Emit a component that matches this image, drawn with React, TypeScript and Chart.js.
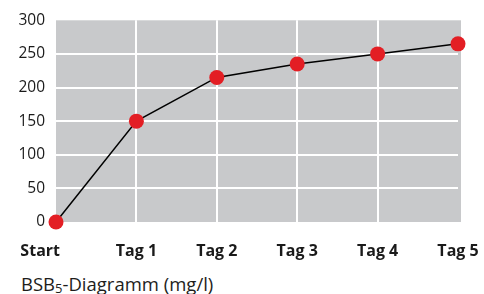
import React, { useEffect, useRef } from "react";
import { Chart, registerables } from "chart.js";

Chart.register(...registerables);

const categories = ["Start", "Tag 1", "Tag 2", "Tag 3", "Tag 4", "Tag 5"];
const bsbValues = [0, 150, 215, 235, 250, 265];
const yMin = 0;
const yMax = 300;
const yStep = 50;

const FONT = "'Open Sans', 'Noto Sans', sans-serif";

const bgPlugin = {
  id: "plotBg",
  beforeDraw(chart: any) {
    const { ctx, chartArea } = chart;
    ctx.save();
    ctx.fillStyle = "#c8c9cb";
    ctx.fillRect(chartArea.left, chartArea.top, chartArea.right - chartArea.left + 3, chartArea.bottom - chartArea.top);
    ctx.restore();
  },
};

const xLabelPlugin = {
  id: "xLabels",
  afterDraw(chart: any) {
    const { ctx } = chart;
    const xs = chart.scales.x;
    ctx.save();
    ctx.fillStyle = "#1a1a1a";
    ctx.font = `bold 16px ${FONT}`;
    ctx.textBaseline = "alphabetic";
    categories.forEach((c, i) => {
      const px = xs.getPixelForValue(i);
      if (i === 0) {
        ctx.textAlign = "right";
        ctx.fillText(c, px + 4, 256);
      } else {
        ctx.textAlign = "center";
        ctx.fillText(c, px, 256);
      }
    });
    ctx.restore();
  },
};

export default function App() {
  const ref = useRef<HTMLCanvasElement>(null);
  useEffect(() => {
    if (!ref.current) return;
    const chart = new Chart(ref.current, {
      type: "line",
      data: {
        labels: categories,
        datasets: [
          {
            data: bsbValues,
            borderColor: "#000000",
            borderWidth: 1.5,
            pointRadius: 7.5,
            pointHoverRadius: 7.5,
            pointBackgroundColor: "#e31e24",
            pointBorderColor: "#e31e24",
            pointBorderWidth: 0,
            tension: 0,
            clip: false as any,
          },
        ],
      },
      options: {
        animation: false,
        responsive: false,
        maintainAspectRatio: false,
        layout: { padding: { left: 0, top: 19, right: 26, bottom: 38 } },
        plugins: { legend: { display: false }, tooltip: { enabled: false } },
        scales: {
          x: {
            type: "category",
            offset: false,
            border: { display: false },
            ticks: { display: false },
            grid: {
              drawTicks: false,
              lineWidth: 2,
              color: (ctx: any) =>
                ctx.index === 0 || ctx.index === categories.length - 1 ? "rgba(0,0,0,0)" : "#ffffff",
            },
            afterFit: (s: any) => {
              s.height = 0;
            },
          },
          y: {
            min: yMin,
            max: yMax,
            border: { display: false },
            ticks: {
              stepSize: yStep,
              padding: 11,
              color: "#1a1a1a",
              font: { family: FONT, size: 15.5 },
            },
            grid: {
              drawTicks: false,
              lineWidth: 2,
              color: (ctx: any) =>
                ctx.tick && (ctx.tick.value === yMin || ctx.tick.value === yMax) ? "rgba(0,0,0,0)" : "#ffffff",
            },
            afterFit: (s: any) => {
              s.width = 56;
            },
          },
        },
      },
      plugins: [bgPlugin, xLabelPlugin],
    });
    return () => chart.destroy();
  }, []);

  return (
    <div style={{ position: "absolute", left: 0, top: 0, width: 484, height: 294, background: "#fff" }}>
      <canvas ref={ref} width={484} height={260} style={{ position: "absolute", left: 0, top: 0 }} />
      <div
        style={{
          position: "absolute",
          left: 21,
          top: 271,
          fontFamily: FONT,
          fontSize: 18.5,
          color: "#1d1d1b",
          whiteSpace: "nowrap",
        }}
      >
        BSB<sub style={{ fontSize: 13, verticalAlign: "-2px", lineHeight: 0 }}>5</sub>-Diagramm (mg/l)
      </div>
    </div>
  );
}
